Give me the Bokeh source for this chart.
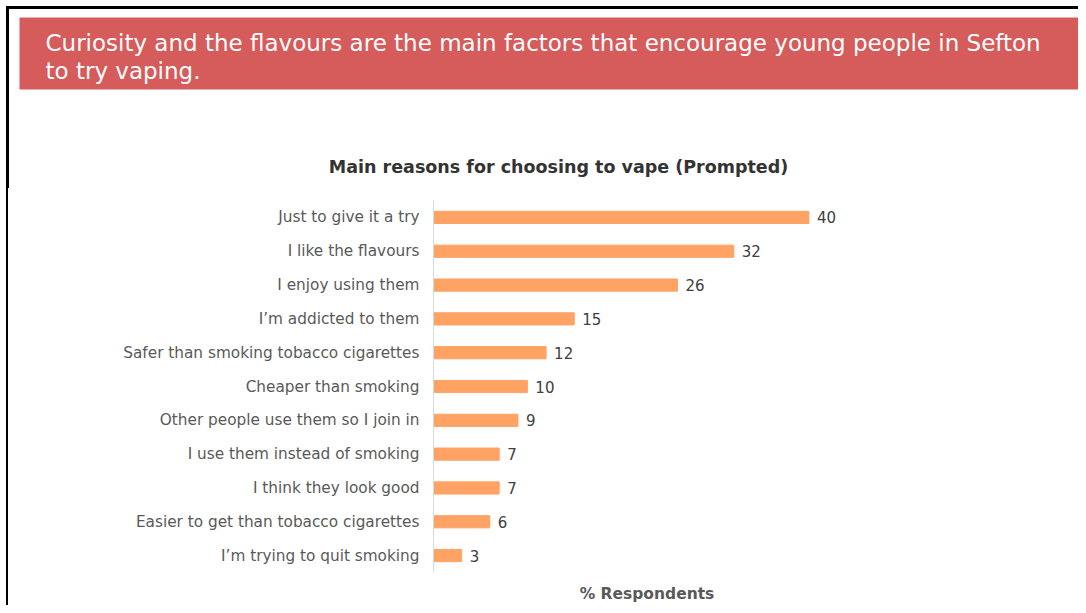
from bokeh.plotting import figure
from bokeh.layouts import column, row
from bokeh.models import ColumnDataSource, Range1d, FactorRange, FixedTicker, Spacer
from bokeh.core.properties import value
from bokeh.embed import file_html
from bokeh.resources import INLINE

# ---- data ----
reasons = [
    "Just to give it a try",
    "I like the flavours",
    "I enjoy using them",
    "I\u2019m addicted to them",
    "Safer than smoking tobacco cigarettes",
    "Cheaper than smoking",
    "Other people use them so I join in",
    "I use them instead of smoking",
    "I think they look good",
    "Easier to get than tobacco cigarettes",
    "I\u2019m trying to quit smoking",
]
values = [40, 32, 26, 15, 12, 10, 9, 7, 7, 6, 3]
banner_lines = [
    "Curiosity and the flavours are the main factors that encourage young people in Sefton",
    "to try vaping.",
]
chart_title = "Main reasons for choosing to vape (Prompted)"
x_label = "% Respondents"

FONT = "DejaVu Sans"
BAR = "#FFA365"
RED = "#D65B5B"

W, H = 1078, 605
TOP_H = 188
GAP_W = 6
LINE_W = 2
LEFT_W = GAP_W + LINE_W

# ---- top part: border, banner, chart title ----
top = figure(width=W, height=TOP_H, x_range=Range1d(0, W), y_range=Range1d(TOP_H, 0),
             x_axis_location=None, y_axis_location=None, min_border=0,
             output_backend="svg", toolbar_location=None)
top.grid.visible = False
top.outline_line_color = None
top.quad(left=6, right=W, top=6, bottom=8, color="black")
top.quad(left=6, right=8, top=6, bottom=TOP_H, color="black")
top.quad(left=19, right=W, top=17, bottom=89, fill_color=RED, line_color=None)
top.text(x=[45, 45], y=[42, 70], text=banner_lines, text_color="white",
         text_font=value(FONT), text_font_size="23px", text_baseline="middle")
top.text(x=[558], y=[166], text=[chart_title], text_color="#333333",
         text_font=value(FONT), text_font_size="17.5px", text_font_style="bold",
         text_align="center", text_baseline="middle")

# ---- left border strip ----
gap = Spacer(width=GAP_W, height=H - TOP_H)
strip = Spacer(width=LINE_W, height=H - TOP_H, styles={"background-color": "black"})

# ---- chart ----
src = ColumnDataSource(dict(reason=reasons, val=values, lab=[str(v) for v in values]))
CW = W - LEFT_W
chart = figure(width=CW, height=H - TOP_H,
               y_range=FactorRange(factors=list(reversed(reasons))),
               x_range=Range1d(0, 45.5),
               min_border_left=433 - LEFT_W, min_border_right=CW - (860 - LEFT_W),
               min_border_top=200 - TOP_H, min_border_bottom=H - 574,
               output_backend="svg", toolbar_location=None)
chart.hbar(y="reason", right="val", left=0, height=0.36, color=BAR, source=src)
chart.text(x="val", y="reason", text="lab", source=src, x_offset=8,
           text_baseline="middle", text_color="#404040",
           text_font=value(FONT), text_font_size="15px")

chart.grid.visible = False
chart.outline_line_color = None

ya = chart.yaxis[0]
ya.axis_line_color = "#D9D9D9"
ya.major_tick_line_color = None
ya.minor_tick_line_color = None
ya.major_tick_out = 0
ya.major_tick_in = 0
ya.major_label_text_font = FONT
ya.major_label_text_font_size = "15.3px"
ya.major_label_text_color = "#595959"
ya.major_label_standoff = 14

xa = chart.xaxis[0]
xa.ticker = FixedTicker(ticks=[])
xa.axis_line_color = None
xa.major_tick_line_color = None
xa.minor_tick_line_color = None
xa.major_tick_out = 0
xa.major_tick_in = 0
xa.major_label_standoff = 0
xa.axis_label = x_label
xa.axis_label_text_font = FONT
xa.axis_label_text_font_style = "bold"
xa.axis_label_text_font_size = "15.5px"
xa.axis_label_text_color = "#595959"
xa.axis_label_standoff = 12

layout = column(top, row(gap, strip, chart))
open("out.html", "w").write(file_html(layout, INLINE))
